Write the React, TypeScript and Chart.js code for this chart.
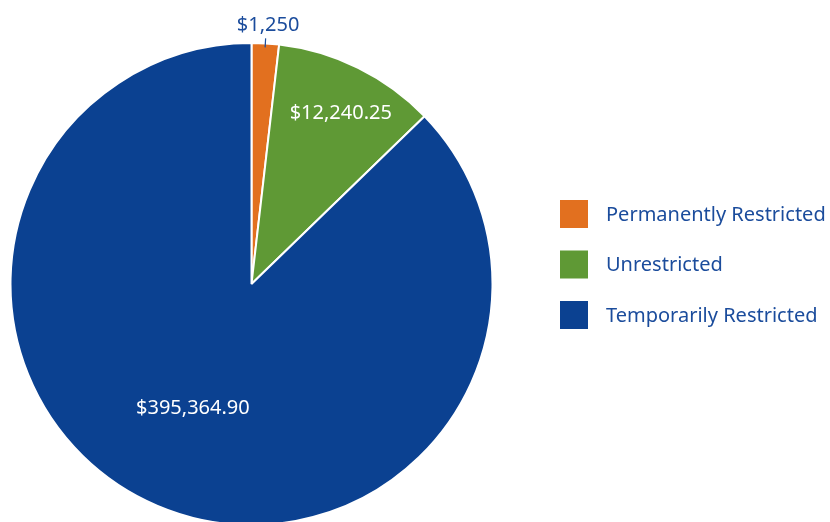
import React, { useEffect, useRef } from "react";
import { Chart, registerables } from "chart.js";

Chart.register(...registerables);

const categories = ["Permanently Restricted", "Unrestricted", "Temporarily Restricted"];
// slice shares as drawn in the picture (percent of the circle)
const sliceShares = [1.83, 10.92, 87.25];
const valueLabels = ["$1,250", "$12,240.25", "$395,364.90"];
const colors = ["#E2701F", "#5F9935", "#0B4191"];
const textBlue = "#1B4C9C";
const FONT = "'Noto Sans', sans-serif";

const labelPlugin = {
  id: "sliceLabels",
  afterDatasetsDraw(chart: any) {
    const ctx = chart.ctx;
    const meta = chart.getDatasetMeta(0);
    ctx.save();
    meta.data.forEach((arc: any, i: number) => {
      const { x, y, startAngle, endAngle, outerRadius } = arc.getProps(
        ["x", "y", "startAngle", "endAngle", "outerRadius"],
        true
      );
      const mid = (startAngle + endAngle) / 2;
      const cos = Math.cos(mid);
      const sin = Math.sin(mid);
      ctx.font = `20px ${FONT}`;
      ctx.textAlign = "center";
      if (i === 0) {
        ctx.strokeStyle = textBlue;
        ctx.lineWidth = 1.2;
        ctx.beginPath();
        ctx.moveTo(x + cos * (outerRadius - 4), y + sin * (outerRadius - 4));
        ctx.lineTo(x + cos * (outerRadius + 5), y + sin * (outerRadius + 5));
        ctx.stroke();
        ctx.fillStyle = textBlue;
        ctx.textBaseline = "alphabetic";
        ctx.fillText(valueLabels[i], x + cos * (outerRadius + 12) + 2, y + sin * (outerRadius + 12));
      } else if (i === 1) {
        ctx.fillStyle = "#FFFFFF";
        ctx.textBaseline = "middle";
        ctx.fillText(valueLabels[i], x + cos * outerRadius * 0.8 + 4, y + sin * outerRadius * 0.8 + 2);
      } else {
        ctx.fillStyle = "#FFFFFF";
        ctx.textBaseline = "middle";
        ctx.fillText(valueLabels[i], x + cos * outerRadius * 0.56 - 6, y + sin * outerRadius * 0.56);
      }
    });
    ctx.restore();
  },
};

const legendPlugin = {
  id: "sideLegend",
  afterDraw(chart: any) {
    const ctx = chart.ctx;
    ctx.save();
    const labels = chart.data.labels as string[];
    const bg = chart.data.datasets[0].backgroundColor as string[];
    labels.forEach((lab, i) => {
      const top = 200 + i * 50.5;
      ctx.fillStyle = bg[i];
      ctx.fillRect(560, top, 28, 28);
      ctx.fillStyle = textBlue;
      ctx.font = `20px ${FONT}`;
      ctx.textAlign = "left";
      ctx.textBaseline = "middle";
      ctx.fillText(lab, 606, top + 15);
    });
    ctx.restore();
  },
};

export default function App() {
  const ref = useRef<HTMLCanvasElement>(null);
  useEffect(() => {
    if (!ref.current) return;
    const chart = new Chart(ref.current, {
      type: "pie",
      data: {
        labels: categories,
        datasets: [
          {
            data: sliceShares,
            backgroundColor: colors,
            borderColor: "#FFFFFF",
            borderWidth: 2,
          },
        ],
      },
      options: {
        animation: false,
        responsive: false,
        maintainAspectRatio: false,
        layout: { padding: { left: 9.5, top: 42, right: 336.5, bottom: 4 } },
        plugins: {
          legend: { display: false },
          tooltip: { enabled: false },
        },
      },
      plugins: [labelPlugin, legendPlugin],
    });
    return () => chart.destroy();
  }, []);
  return (
    <div
      style={{
        position: "fixed",
        left: 0,
        top: 0,
        width: 830,
        height: 522,
        overflow: "hidden",
        background: "#FFFFFF",
      }}
    >
      <canvas ref={ref} width={830} height={530} style={{ display: "block" }} />
    </div>
  );
}
